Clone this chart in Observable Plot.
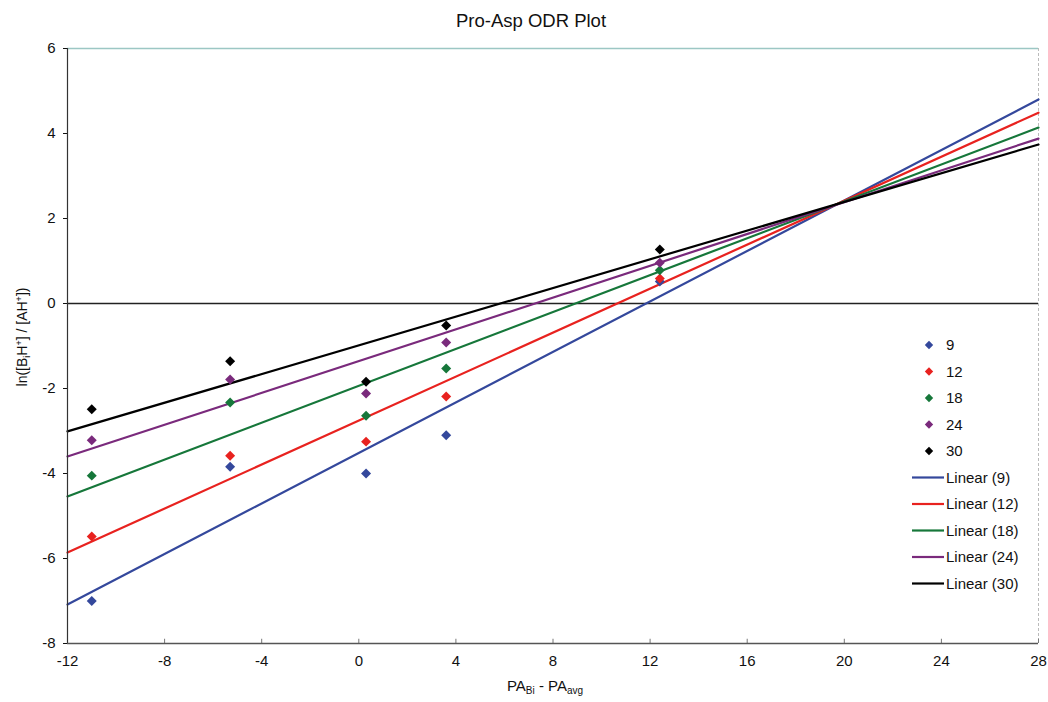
<!DOCTYPE html>
<html>
<head>
<meta charset="utf-8">
<script src="https://cdn.jsdelivr.net/npm/d3@7"></script>
<script src="https://cdn.jsdelivr.net/npm/@observablehq/plot@0.6"></script>
<style>
  html, body { margin: 0; padding: 0; background: #fff; }
  svg { font-family: "Liberation Sans", Arial, sans-serif; }
</style>
</head>
<body>
<div id="chart"></div>
<script>
// ---- Data ----
const seriesNames = ["9", "12", "18", "24", "30"];
const seriesColors = ["#34489c", "#e8221f", "#16773a", "#7a2a7c", "#000000"];
const xValues = [-11, -5.3, 0.3, 3.6, 12.4];
const yValues9  = [-7.0, -3.84, -4.0, -3.1, 0.52];
const yValues12 = [-5.48, -3.58, -3.25, -2.19, 0.59];
const yValues18 = [-4.05, -2.33, -2.64, -1.53, 0.78];
const yValues24 = [-3.22, -1.79, -2.12, -0.92, 0.96];
const yValues30 = [-2.49, -1.36, -1.84, -0.52, 1.27];
// fitted trend lines, read at the plot's x extent
const lineX = [-12, 28];
const lineStart = [-7.08, -5.86, -4.54, -3.6, -3.01];
const lineEnd = [4.8, 4.49, 4.14, 3.88, 3.74];
const xTicks = [-12, -8, -4, 0, 4, 8, 12, 16, 20, 24, 28];
const yTicks = [-8, -6, -4, -2, 0, 2, 4, 6];

const allY = [yValues9, yValues12, yValues18, yValues24, yValues30];
const points = [];
seriesNames.forEach((s, i) => xValues.forEach((x, j) => points.push({series: s, x, y: allY[i][j]})));
const lines = [];
seriesNames.forEach((s, i) => {
  lines.push({series: s, x: lineX[0], y: lineStart[i]});
  lines.push({series: s, x: lineX[1], y: lineEnd[i]});
});

const W = 1048, H = 702;
const fmt = d => String(d);
const plot = Plot.plot({
  width: W, height: H,
  marginLeft: 67, marginRight: 10, marginTop: 48, marginBottom: 59,
  style: {fontFamily: '"Liberation Sans", Arial, sans-serif', fontSize: "15px", color: "#111", background: "#fff"},
  x: {domain: [-12, 28], ticks: xTicks, tickFormat: fmt, tickSize: 0, tickPadding: 12, label: null},
  y: {domain: [-8, 6], ticks: yTicks, tickFormat: fmt, tickSize: 4, tickPadding: 8, label: null},
  color: {domain: seriesNames, range: seriesColors},
  marks: [
    Plot.ruleY([6], {stroke: "#9cc7c4", strokeWidth: 1.5}),
    Plot.ruleX([28], {stroke: "#bbb", strokeDasharray: "3,2"}),
    Plot.ruleY([0], {stroke: "#222", strokeWidth: 1.3}),
    Plot.ruleX(xTicks, {y1: -8, y2: -7.9, stroke: "#777"}),
    Plot.line(lines, {x: "x", y: "y", z: "series", stroke: "series", strokeWidth: 2.2}),
    Plot.dot(points, {x: "x", y: "y", fill: "series", symbol: "diamond2", r: 4.5}),
    Plot.ruleX([-12], {stroke: "#333", strokeWidth: 1.2}),
    Plot.ruleY([-8], {stroke: "#555", strokeWidth: 1.5})
  ]
});
document.getElementById("chart").appendChild(plot);

const svg = d3.select(plot);
// title
svg.append("text").attr("x", 531).attr("y", 27).attr("text-anchor", "middle")
  .attr("font-size", 18.5).attr("fill", "#111").text("Pro-Asp ODR Plot");
// x label
const xl = svg.append("text").attr("x", 545).attr("y", 691).attr("text-anchor", "middle")
  .attr("font-size", 15).attr("fill", "#111");
xl.append("tspan").text("PA");
xl.append("tspan").attr("font-size", 10).attr("dy", 3).text("Bi");
xl.append("tspan").attr("dy", -3).text(" - PA");
xl.append("tspan").attr("font-size", 10).attr("dy", 3).text("avg");
// y label
const yl = svg.append("text").attr("transform", "translate(27,337) rotate(-90)")
  .attr("text-anchor", "middle").attr("font-size", 14).attr("fill", "#111");
yl.append("tspan").text("ln([B");
yl.append("tspan").attr("font-size", 9).attr("dy", 3).text("i");
yl.append("tspan").attr("dy", -3).text("H");
yl.append("tspan").attr("font-size", 9).attr("dy", -5).text("+");
yl.append("tspan").attr("dy", 5).text("] / [AH");
yl.append("tspan").attr("font-size", 9).attr("dy", -5).text("+");
yl.append("tspan").attr("dy", 5).text("])");

// legend
const lg = svg.append("g").attr("font-size", 15).attr("fill", "#111").attr("text-anchor", "start");
const rowY0 = 345, rowStep = 26.5;
seriesNames.forEach((s, i) => {
  const y = rowY0 + i * rowStep;
  lg.append("path").attr("d", d3.symbol(d3.symbolDiamond2, 45)()).attr("transform", `translate(929,${y})`).attr("fill", seriesColors[i]);
  lg.append("text").attr("x", 946).attr("y", y + 5).text(s);
});
seriesNames.forEach((s, i) => {
  const y = rowY0 + (i + 5) * rowStep;
  lg.append("line").attr("x1", 912).attr("x2", 944).attr("y1", y).attr("y2", y).attr("stroke", seriesColors[i]).attr("stroke-width", 2.2);
  lg.append("text").attr("x", 946).attr("y", y + 5).text(`Linear (${s})`);
});
</script>
</body>
</html>
